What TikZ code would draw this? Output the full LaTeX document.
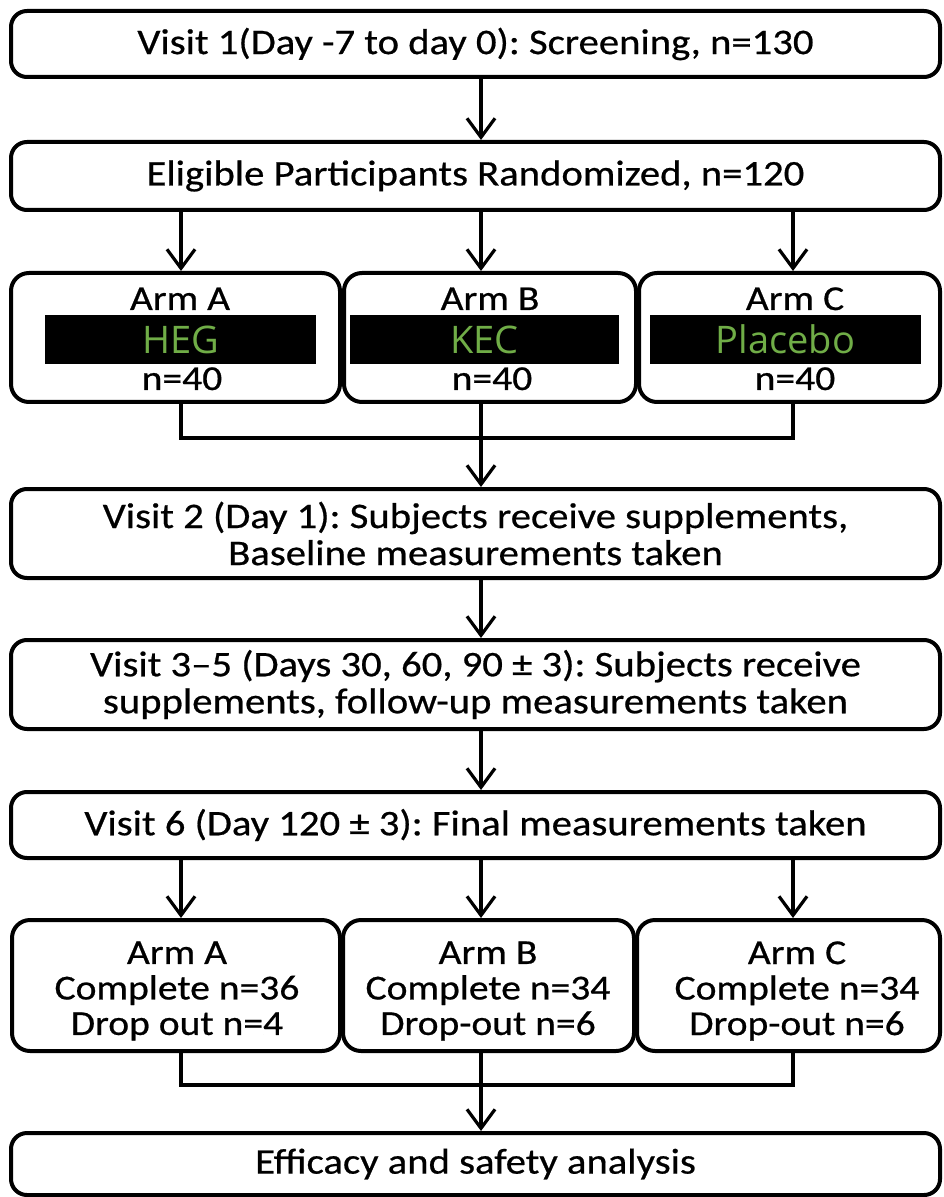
\documentclass[tikz,border=0pt]{standalone}
\usepackage{fontspec}
\setmainfont{Carlito}[FakeStretch=1.13,FakeBold=0.6]
\newfontfamily\hegfont{Open Sans}
\usetikzlibrary{arrows.meta}
\definecolor{heggreen}{HTML}{70AD47}
\newcommand\mainsz{\fontsize{18}{18.5}\selectfont}
\newcommand\armsz{\fontsize{17.5}{17.75}\selectfont}
\newcommand\hegsz{\hegfont\fontsize{19}{19}\selectfont}
\frenchspacing
\begin{document}
\begin{tikzpicture}[x=0.5pt,y=-0.5pt,
  box/.style={draw, line width=2pt, rounded corners=8pt, inner sep=0pt, align=center, font=\mainsz, minimum width=464.5pt},
  armbox/.style={draw, line width=2pt, rounded corners=9pt, inner sep=0pt},
  armtxt/.style={inner sep=0pt, font=\armsz, align=center},
  bar/.style={fill=black, text=heggreen, font=\hegsz, inner sep=0pt, minimum height=24.5pt},
  arr/.style={line width=1.6pt, -{Straight Barb[length=9.5pt,width=14pt,line width=1.6pt]}},
  ln/.style={line width=1.6pt}]
\useasboundingbox (0,0) rectangle (943,1197);
\fill[white] (0,0) rectangle (943,1197);
\coordinate (cA) at (181,0);
\coordinate (cB) at (481,0);
\coordinate (cC) at (793,0);
% main boxes
\node[box, minimum height=33pt] (v1) at (475.5,44) {Visit 1(Day -7 to day 0): Screening, n=130};
\node[box, minimum height=34pt] (elig) at (475.5,176) {Eligible Participants Randomized, n=120};
% first arms
\node[armbox, minimum width=164.5pt, minimum height=64.5pt] (armA) at (175.5,337.5) {};
\node[armbox, minimum width=146pt, minimum height=64.5pt] (armB) at (490,337.5) {};
\node[armbox, minimum width=150.5pt, minimum height=64.5pt] (armC) at (789.5,337.5) {};
\node[armtxt, anchor=base] (lA) at (180,310) {Arm A};
\node[armtxt, anchor=base] (lB) at (490,310) {Arm B};
\node[armtxt, anchor=base] (lC) at (795,310) {Arm C};
\node[bar, minimum width=135.5pt] (heg) at (180.5,339.5) {HEG};
\node[bar, minimum width=134.5pt] (kec) at (484.5,339.5) {KEC};
\node[bar, minimum width=135.5pt] (plac) at (785.5,339.5) {Placebo};
\node[armtxt, anchor=base] (nA) at (182,390) {n=40};
\node[armtxt, anchor=base] (nB) at (492,390) {n=40};
\node[armtxt, anchor=base] (nC) at (795,390) {n=40};
% visits
\node[box, minimum height=44.5pt] (v2) at (475.5,533.5) {Visit 2 (Day 1): Subjects receive supplements,\\ Baseline measurements taken};
\node[box, minimum height=44.5pt] (v35) at (475.5,684.5) {Visit 3–5 (Days 30, 60, 90 ± 3): Subjects receive\\ supplements, follow-up measurements taken};
\node[box, minimum height=33pt] (v6) at (475.5,825) {Visit 6 (Day 120 ± 3): Final measurements taken};
% final arms
\node[armbox, minimum width=164pt, minimum height=65.5pt] (fA) at (176,985.5) {};
\node[armbox, minimum width=145.5pt, minimum height=65.5pt] (fB) at (488.5,985.5) {};
\node[armbox, minimum width=151.5pt, minimum height=65.5pt] (fC) at (788.5,985.5) {};
\node[armtxt] (tA) at (177,991) {Arm A\\ Complete n=36\\ Drop out n=4};
\node[armtxt] (tB) at (488,991) {Arm B\\ Complete n=34\\ Drop-out n=6};
\node[armtxt] (tC) at (797,991) {Arm C\\ Complete n=34\\ Drop-out n=6};
\node[box, minimum height=31pt] (eff) at (475.5,1164) {Efficacy and safety analysis};
% connectors
\draw[arr] (v1.south -| cB) -- (elig.north -| cB);
\draw[arr] (elig.south -| cA) -- (armA.north -| cA);
\draw[arr] (elig.south -| cB) -- (armB.north -| cB);
\draw[arr] (elig.south -| cC) -- (armC.north -| cC);
\coordinate (j1) at (481,438);
\draw[ln] (armA.south -| cA) |- (j1) -| (armC.south -| cC);
\draw[arr] (armB.south -| cB) -- (v2.north -| cB);
\draw[arr] (v2.south -| cB) -- (v35.north -| cB);
\draw[arr] (v35.south -| cB) -- (v6.north -| cB);
\draw[arr] (v6.south -| cA) -- (fA.north -| cA);
\draw[arr] (v6.south -| cB) -- (fB.north -| cB);
\draw[arr] (v6.south -| cC) -- (fC.north -| cC);
\coordinate (j2) at (481,1085);
\draw[ln] (fA.south -| cA) |- (j2) -| (fC.south -| cC);
\draw[arr] (fB.south -| cB) -- (eff.north -| cB);
\end{tikzpicture}
\end{document}
